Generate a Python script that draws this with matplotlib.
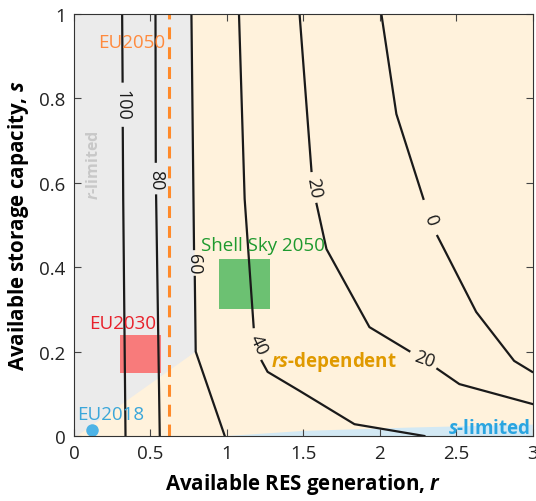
import matplotlib
matplotlib.use('Agg')
import matplotlib.pyplot as plt
import numpy as np

plt.rcParams.update({
    'font.family': 'Open Sans',
    'font.size': 12,
    'mathtext.fontset': 'custom',
    'mathtext.it': 'Open Sans:italic:bold',
    'mathtext.rm': 'Open Sans:bold',
    'xtick.direction': 'in',
    'ytick.direction': 'in',
})

nan = np.nan

# contour lines (r, s), NaN marks the gap left for a label
r_100 = [0.315, 0.318, nan, 0.319, 0.322, 0.337]
s_100 = [1.0, 0.84, nan, 0.73, 0.56, 0.0]
r_80 = [0.533, 0.535, nan, 0.537, 0.561]
s_80 = [1.0, 0.65, nan, 0.57, 0.0]
r_60 = [0.768, 0.785, nan, 0.79, 0.796, 0.986]
s_60 = [1.0, 0.443, nan, 0.377, 0.2, 0.0]
r_40 = [1.079, 1.116, 1.175, nan, 1.227, 1.266, 1.475, 1.834, 2.291]
s_40 = [1.0, 0.562, 0.258, nan, 0.178, 0.152, 0.107, 0.028, 0.0]
r_20 = [1.475, 1.553, nan, 1.586, 1.651, 1.932, 2.193, nan, 2.376, 2.52, 2.996]
s_20 = [1.0, 0.628, nan, 0.55, 0.443, 0.258, 0.201, nan, 0.159, 0.123, 0.076]
r_0 = [2.01, 2.108, 2.285, nan, 2.376, 2.42, 2.63, 2.878, 2.996]
s_0 = [1.0, 0.763, 0.562, nan, 0.474, 0.443, 0.294, 0.178, 0.152]

# contour labels: text, r, s, rotation
clabels = [('100', 0.318, 0.787, -90), ('80', 0.536, 0.609, -90),
           ('60', 0.788, 0.41, -90), ('40', 1.205, 0.218, -65),
           ('20', 1.57, 0.59, -80), ('20', 2.29, 0.182, -20),
           ('0', 2.33, 0.514, -70)]

# regions
r_rlim = [0.0, 0.0, 0.768, 0.785, 0.796, 0.02]
s_rlim = [0.0, 1.0, 1.0, 0.56, 0.2, 0.0]
r_slim = [1.0, 1.5, 2.2, 3.0, 3.0]
s_slim = [0.0, 0.012, 0.02, 0.027, 0.0]

# scenarios
eu2030_r, eu2030_s = (0.30, 0.57), (0.15, 0.24)
shell_r, shell_s = (0.95, 1.28), (0.30, 0.42)
eu2018_r, eu2018_s = 0.12, 0.014
eu2050_r = 0.62

fig = plt.figure(figsize=(5.36, 5.02), dpi=100)
ax = fig.add_axes([0.138, 0.1295, 0.856, 0.8406])
ax.set_facecolor('#FFF2DC')

ax.fill(r_rlim, s_rlim, color='#EBEBEB', lw=0, zorder=1)
ax.fill(r_slim, s_slim, color='#D3E9F4', lw=0, zorder=1)

ax.fill_between(eu2030_r, eu2030_s[0], eu2030_s[1], color='#F87B7B', lw=0, zorder=2)
ax.fill_between(shell_r, shell_s[0], shell_s[1], color='#6CC172', lw=0, zorder=2)

for rr, ss in [(r_100, s_100), (r_80, s_80), (r_60, s_60),
               (r_40, s_40), (r_20, s_20), (r_0, s_0)]:
    ax.plot(rr, ss, color='#1a1a1a', lw=1.6, zorder=3)
for txt, rr, ss, rot in clabels:
    ax.text(rr, ss, txt, rotation=rot, ha='center', va='center',
            fontsize=13, color='#1a1a1a', rotation_mode='anchor', zorder=4)

ax.axvline(eu2050_r, color='#FF8A2A', lw=2.2, dashes=(3.9, 2.6), zorder=3)
ax.plot(eu2018_r, eu2018_s, 'o', color='#4DB3E6', ms=9, mec='none',
        zorder=5, clip_on=False)

ax.text(0.60, 0.934, 'EU2050', color='#FF8A3D', fontsize=13.5, ha='right', va='center')
ax.text(0.10, 0.268, 'EU2030', color='#E8202A', fontsize=13.5, ha='left', va='center')
ax.text(0.83, 0.453, 'Shell Sky 2050', color='#1E9A2E', fontsize=13.5, ha='left', va='center')
ax.text(0.02, 0.052, 'EU2018', color='#3AA6DA', fontsize=13.5, ha='left', va='center')
ax.text(1.29, 0.178, '$rs$-dependent', color='#E09A00', fontsize=13.5,
        fontweight='bold', ha='left', va='center')
ax.text(2.98, 0.019, '$s$-limited', color='#2AA5E0', fontsize=13.5,
        fontweight='bold', ha='right', va='center')
ax.text(0.13, 0.645, '$r$-limited', color='#C8C8C8', fontsize=11.5,
        fontweight='bold', ha='center', va='center', rotation=90)

ax.set_xlim(0, 3)
ax.set_ylim(0, 1)
ax.set_xticks(np.arange(0, 3.01, 0.5))
ax.set_yticks(np.arange(0, 1.01, 0.2))
ax.xaxis.set_major_formatter(plt.FuncFormatter(lambda v, _: f'{v:g}'))
ax.yaxis.set_major_formatter(plt.FuncFormatter(lambda v, _: f'{v:g}'))
ax.tick_params(top=True, right=True, length=5, width=0.8, labelsize=13.5,
               color='#444444', labelcolor='#222222', pad=6)
for sp in ax.spines.values():
    sp.set_color('#333333')
    sp.set_linewidth(0.8)
    sp.set_zorder(6)

ax.set_xlabel('Available RES generation, $r$', fontsize=14.8, fontweight='bold', labelpad=6)
ax.set_ylabel('Available storage capacity, $s$', fontsize=14.8, fontweight='bold', labelpad=6)

fig.savefig('out.png', dpi=100)
